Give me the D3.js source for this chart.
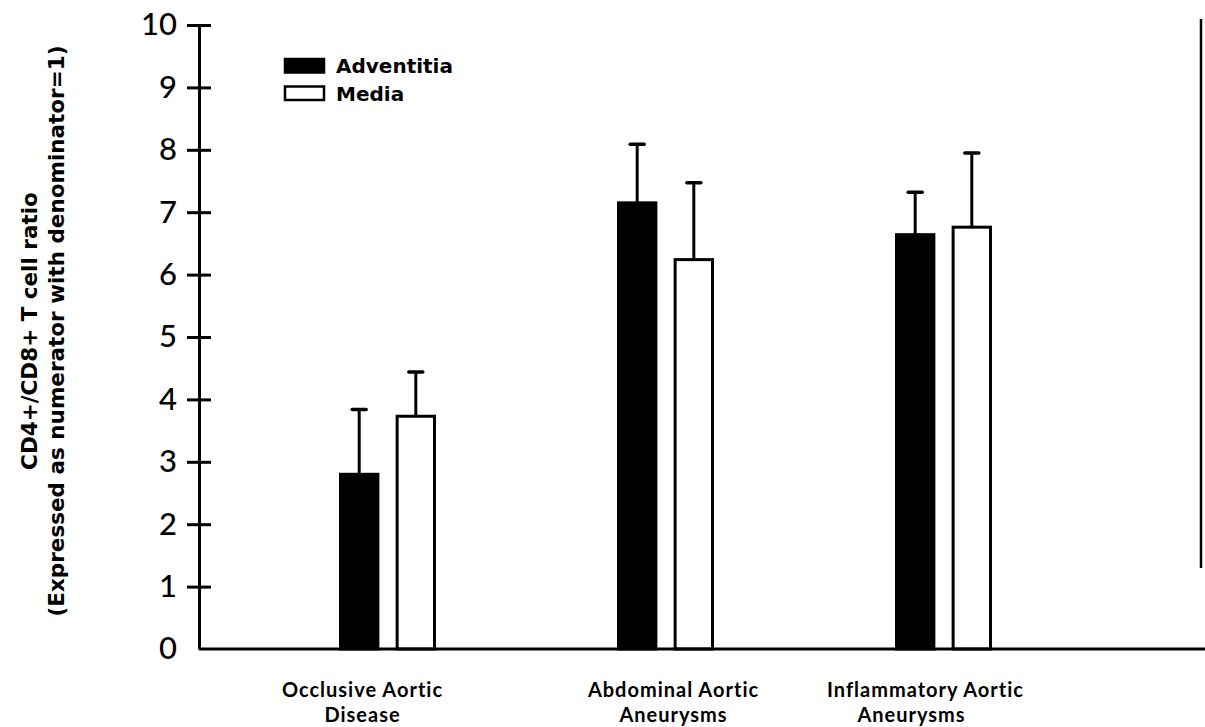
<!DOCTYPE html>
<html>
<head>
<meta charset="utf-8">
<script src="https://cdn.jsdelivr.net/npm/d3@7"></script>
<style>
  body { margin: 0; background: #fff; }
  svg { display: block; }
  .axis path, .axis line { stroke: #000; stroke-width: 3; }
  .axis text { font-family: Lato, sans-serif; font-size: 31px; font-weight: 500; fill: #000; }
</style>
</head>
<body>
<div class="chart"></div>
<script>
// values
const categories = ["Occlusive Aortic Disease", "Abdominal Aortic Aneurysms", "Inflammatory Aortic Aneurysms"];
const categoryLines = [["Occlusive Aortic", "Disease"], ["Abdominal Aortic", "Aneurysms"], ["Inflammatory Aortic", "Aneurysms"]];
const series = ["Adventitia", "Media"];
const adventitia = [2.8, 7.15, 6.64];
const adventitiaErr = [1.04, 0.94, 0.68];
const media = [3.73, 6.24, 6.76];
const mediaErr = [0.71, 1.23, 1.19];
const yTicks = [0, 1, 2, 3, 4, 5, 6, 7, 8, 9, 10];

const width = 1205, height = 727;

const svg = d3.select(".chart").append("svg")
  .attr("width", width)
  .attr("height", height);

const x0 = 199, yTop = 25, yBase = 649;

let xScale = d3.scaleBand()
  .domain(categories)
  .range([248.5, 1082.5])
  .padding(0);

let subScale = d3.scaleBand()
  .domain(series)
  .range([-47, 47])
  .paddingInner(0.34);

let yScale = d3.scaleLinear()
  .domain([0, 10])
  .range([yBase, yTop]);

const fills = {Adventitia: "#000", Media: "#fff"};

let rows = [];
categories.forEach((c, i) => {
  rows.push({cat: c, s: "Adventitia", v: adventitia[i], e: adventitiaErr[i]});
  rows.push({cat: c, s: "Media", v: media[i], e: mediaErr[i]});
});

const barX = d => xScale(d.cat) + xScale.bandwidth() / 2 + subScale(d.s);

// error bars (drawn first, bar sits on top)
let err = svg.append("g").selectAll("g")
  .data(rows)
  .enter()
  .append("g");

err.append("line")
  .attr("x1", d => barX(d) + subScale.bandwidth() / 2)
  .attr("x2", d => barX(d) + subScale.bandwidth() / 2)
  .attr("y1", d => yScale(d.v))
  .attr("y2", d => yScale(d.v + d.e))
  .attr("stroke", "#000")
  .attr("stroke-width", 3);

err.append("line")
  .attr("x1", d => barX(d) + subScale.bandwidth() / 2 - 7)
  .attr("x2", d => barX(d) + subScale.bandwidth() / 2 + 7)
  .attr("y1", d => yScale(d.v + d.e))
  .attr("y2", d => yScale(d.v + d.e))
  .attr("stroke", "#000")
  .attr("stroke-width", 3.5)
  .attr("stroke-linecap", "round");

svg.append("g").selectAll("rect")
  .data(rows)
  .enter()
  .append("rect")
  .attr("x", d => barX(d))
  .attr("y", d => yScale(d.v))
  .attr("width", subScale.bandwidth())
  .attr("height", d => yScale(0) - yScale(d.v))
  .attr("fill", d => fills[d.s])
  .attr("stroke", "#000")
  .attr("stroke-width", 3);

// axes
let yAxis = d3.axisLeft(yScale)
  .tickValues(yTicks)
  .tickSizeInner(12)
  .tickSizeOuter(0)
  .tickPadding(10)
  .tickFormat(d3.format("d"));

let gy = svg.append("g")
  .attr("class", "axis y-axis")
  .attr("transform", `translate(${x0},0)`)
  .call(yAxis);
gy.selectAll(".tick line").attr("x2", d => d === 0 ? -12 : 12).attr("x1", -12);

svg.append("line")
  .attr("x1", x0).attr("x2", width)
  .attr("y1", yScale(0)).attr("y2", yScale(0))
  .attr("stroke", "#000").attr("stroke-width", 3);

// right border line
svg.append("line")
  .attr("x1", 1201).attr("x2", 1201)
  .attr("y1", 19).attr("y2", 568)
  .attr("stroke", "#000").attr("stroke-width", 2.5);

// category labels
let labels = svg.append("g").selectAll("text")
  .data(categories)
  .enter()
  .append("text")
  .attr("text-anchor", "middle")
  .style("font-family", "Lato, sans-serif")
  .style("font-weight", "bold")
  .style("font-size", "20px")
  .style("letter-spacing", "1px");

const labelDx = [-25, 8, -18];
labels.each(function (d, i) {
  const cx = xScale(d) + xScale.bandwidth() / 2 + labelDx[i];
  d3.select(this).selectAll("tspan")
    .data(categoryLines[i])
    .enter()
    .append("tspan")
    .attr("x", (t, j) => cx + (i === 2 && j === 1 ? -14 : 0))
    .attr("y", (t, j) => 697 + j * 24.5)
    .text(t => t);
});

// y title
const title = svg.append("text")
  .attr("transform", "translate(0,331) rotate(-90)")
  .attr("text-anchor", "middle")
  .style("font-family", "'DejaVu Sans', sans-serif")
  .style("font-weight", "bold")
  .style("font-size", "21.5px");
title.append("tspan").attr("x", 0).attr("y", 37).text("CD4+/CD8+ T cell ratio");
title.append("tspan").attr("x", 0).attr("y", 64).text("(Expressed as numerator with denominator=1)");

// legend
let legend = svg.append("g").selectAll("g")
  .data(series)
  .enter()
  .append("g")
  .attr("transform", (d, i) => `translate(285,${59 + 27.5 * i})`);

legend.append("rect")
  .attr("width", 39)
  .attr("height", 13.5)
  .attr("fill", d => fills[d])
  .attr("stroke", "#000")
  .attr("stroke-width", 2.5);

legend.append("text")
  .attr("x", 51)
  .attr("y", 14)
  .style("font-family", "'DejaVu Sans', sans-serif")
  .style("font-weight", "bold")
  .style("font-size", "20px")
  .text(d => d);
</script>
</body>
</html>
